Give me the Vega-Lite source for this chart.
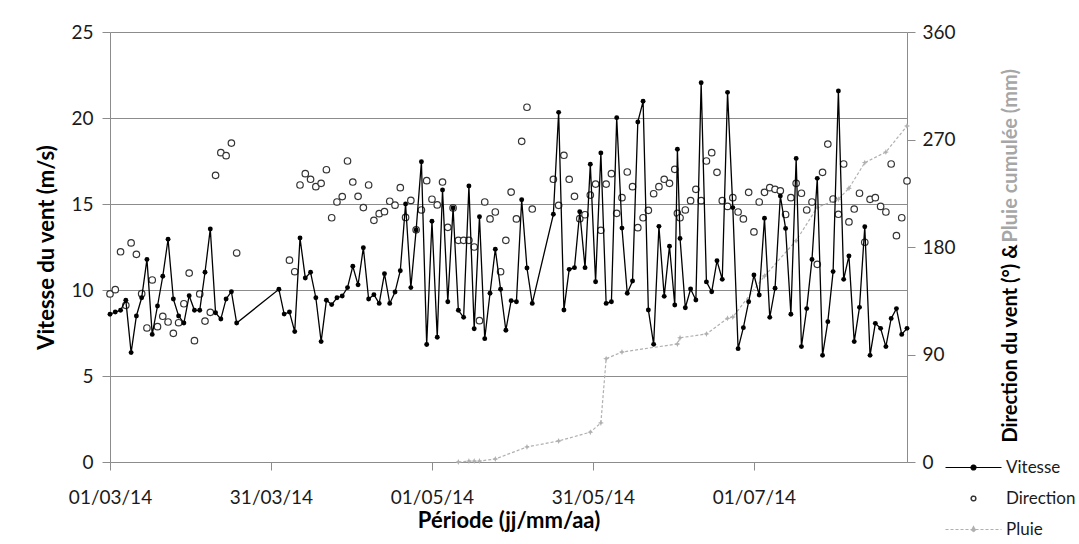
{
  "$schema": "https://vega.github.io/schema/vega-lite/v6.json",
  "width": 797,
  "height": 430,
  "autosize": {"type": "none"},
  "padding": {"left": 110, "top": 32, "right": 172, "bottom": 82},
  "background": "white",
  "config": {
    "view": {"stroke": null},
    "font": "Lato",
    "axis": {
      "labelFont": "Lato", "titleFont": "Lato",
      "labelColor": "#1a1a1a", "titleColor": "#000000",
      "domainColor": "#8c8c8c", "tickColor": "#8c8c8c", "gridColor": "#8c8c8c",
      "labelFontSize": 19, "titleFontSize": 22, "titleFontWeight": "bold"
    },
    "legend": {"labelFont": "Lato", "labelFontSize": 17, "labelColor": "#1a1a1a"}
  },
  "datasets": {
    "speed": [
      {"date":"2014-03-01","speed":8.59},{"date":"2014-03-02","speed":8.72},{"date":"2014-03-03","speed":8.82},{"date":"2014-03-04","speed":9.4},{"date":"2014-03-05","speed":6.36},{"date":"2014-03-06","speed":8.49},{"date":"2014-03-07","speed":9.55},{"date":"2014-03-08","speed":11.78},{"date":"2014-03-09","speed":7.42},{"date":"2014-03-10","speed":9.07},{"date":"2014-03-11","speed":10.8},{"date":"2014-03-12","speed":12.95},{"date":"2014-03-13","speed":9.48},{"date":"2014-03-14","speed":8.49},{"date":"2014-03-15","speed":8.08},{"date":"2014-03-16","speed":9.67},{"date":"2014-03-17","speed":8.82},{"date":"2014-03-18","speed":8.82},{"date":"2014-03-19","speed":11.03},{"date":"2014-03-20","speed":13.55},{"date":"2014-03-21","speed":8.68},{"date":"2014-03-22","speed":8.31},{"date":"2014-03-23","speed":9.48},{"date":"2014-03-24","speed":9.9},{"date":"2014-03-25","speed":8.08},
      {"date":"2014-04-02","speed":10.04},{"date":"2014-04-03","speed":8.6},{"date":"2014-04-04","speed":8.72},{"date":"2014-04-05","speed":7.58},{"date":"2014-04-06","speed":13.02},{"date":"2014-04-07","speed":10.7},{"date":"2014-04-08","speed":11.03},{"date":"2014-04-09","speed":9.55},{"date":"2014-04-10","speed":7.0},{"date":"2014-04-11","speed":9.4},{"date":"2014-04-12","speed":9.15},{"date":"2014-04-13","speed":9.55},{"date":"2014-04-14","speed":9.65},{"date":"2014-04-15","speed":10.14},{"date":"2014-04-16","speed":11.38},{"date":"2014-04-17","speed":10.3},{"date":"2014-04-18","speed":12.46},{"date":"2014-04-19","speed":9.48},{"date":"2014-04-20","speed":9.73},{"date":"2014-04-21","speed":9.22},{"date":"2014-04-22","speed":10.95},{"date":"2014-04-23","speed":9.22},{"date":"2014-04-24","speed":9.88},{"date":"2014-04-25","speed":11.12},{"date":"2014-04-26","speed":15.0},{"date":"2014-04-27","speed":10.14},{"date":"2014-04-28","speed":13.49},{"date":"2014-04-29","speed":17.46},{"date":"2014-04-30","speed":6.83},
      {"date":"2014-05-01","speed":14.0},{"date":"2014-05-02","speed":7.25},{"date":"2014-05-03","speed":15.81},{"date":"2014-05-04","speed":9.32},{"date":"2014-05-05","speed":14.77},{"date":"2014-05-06","speed":8.82},{"date":"2014-05-07","speed":8.41},{"date":"2014-05-08","speed":16.05},{"date":"2014-05-09","speed":7.75},{"date":"2014-05-10","speed":14.26},{"date":"2014-05-11","speed":7.17},{"date":"2014-05-12","speed":9.81},{"date":"2014-05-13","speed":12.37},{"date":"2014-05-14","speed":10.04},{"date":"2014-05-15","speed":7.66},{"date":"2014-05-16","speed":9.38},{"date":"2014-05-17","speed":9.32},{"date":"2014-05-18","speed":15.25},{"date":"2014-05-19","speed":11.28},{"date":"2014-05-20","speed":9.22},
      {"date":"2014-05-24","speed":14.4},{"date":"2014-05-25","speed":20.33},{"date":"2014-05-26","speed":8.84},{"date":"2014-05-27","speed":11.2},{"date":"2014-05-28","speed":11.3},{"date":"2014-05-29","speed":14.55},{"date":"2014-05-30","speed":11.3},{"date":"2014-05-31","speed":17.31},
      {"date":"2014-06-01","speed":10.48},{"date":"2014-06-02","speed":17.97},{"date":"2014-06-03","speed":9.22},{"date":"2014-06-04","speed":9.32},{"date":"2014-06-05","speed":20.02},{"date":"2014-06-06","speed":13.6},{"date":"2014-06-07","speed":9.81},{"date":"2014-06-08","speed":10.52},{"date":"2014-06-09","speed":19.77},{"date":"2014-06-10","speed":20.97},{"date":"2014-06-11","speed":8.84},{"date":"2014-06-12","speed":6.84},{"date":"2014-06-13","speed":13.7},{"date":"2014-06-14","speed":9.63},{"date":"2014-06-15","speed":12.55},{"date":"2014-06-16","speed":9.13},{"date":"2014-06-16T12:00:00Z","speed":18.18},{"date":"2014-06-17","speed":13.0},{"date":"2014-06-18","speed":8.97},{"date":"2014-06-19","speed":10.06},{"date":"2014-06-20","speed":9.42},{"date":"2014-06-21","speed":22.05},{"date":"2014-06-22","speed":10.47},{"date":"2014-06-23","speed":9.9},{"date":"2014-06-24","speed":11.7},{"date":"2014-06-25","speed":10.62},{"date":"2014-06-26","speed":21.49},{"date":"2014-06-27","speed":14.79},{"date":"2014-06-28","speed":6.59},{"date":"2014-06-29","speed":7.81},{"date":"2014-06-30","speed":9.32},
      {"date":"2014-07-01","speed":10.87},{"date":"2014-07-02","speed":9.71},{"date":"2014-07-03","speed":14.17},{"date":"2014-07-04","speed":8.41},{"date":"2014-07-05","speed":10.1},{"date":"2014-07-06","speed":15.47},{"date":"2014-07-07","speed":13.58},{"date":"2014-07-08","speed":8.59},{"date":"2014-07-09","speed":17.65},{"date":"2014-07-10","speed":6.71},{"date":"2014-07-11","speed":8.92},{"date":"2014-07-12","speed":11.78},{"date":"2014-07-13","speed":16.49},{"date":"2014-07-14","speed":6.2},{"date":"2014-07-15","speed":8.16},{"date":"2014-07-16","speed":11.07},{"date":"2014-07-17","speed":21.57},{"date":"2014-07-18","speed":10.62},{"date":"2014-07-19","speed":11.98},{"date":"2014-07-20","speed":7.0},{"date":"2014-07-21","speed":8.99},{"date":"2014-07-22","speed":13.68},{"date":"2014-07-23","speed":6.2},{"date":"2014-07-24","speed":8.06},{"date":"2014-07-25","speed":7.77},{"date":"2014-07-26","speed":6.71},{"date":"2014-07-27","speed":8.35},{"date":"2014-07-28","speed":8.92},{"date":"2014-07-29","speed":7.42},{"date":"2014-07-30","speed":7.77}
    ],
    "dir": [
      {"date":"2014-03-01","dir":140.7},{"date":"2014-03-02","dir":144.3},{"date":"2014-03-03","dir":176},{"date":"2014-03-04","dir":131.2},{"date":"2014-03-05","dir":183.4},{"date":"2014-03-06","dir":173.9},{"date":"2014-03-07","dir":140.9},{"date":"2014-03-08","dir":112.2},{"date":"2014-03-09","dir":152.4},{"date":"2014-03-10","dir":113.3},{"date":"2014-03-11","dir":122},{"date":"2014-03-12","dir":117.2},{"date":"2014-03-13","dir":107.7},{"date":"2014-03-14","dir":116.6},{"date":"2014-03-15","dir":132.5},{"date":"2014-03-16","dir":158.2},{"date":"2014-03-17","dir":101.6},{"date":"2014-03-18","dir":140.7},{"date":"2014-03-19","dir":118},{"date":"2014-03-20","dir":125.3},{"date":"2014-03-21","dir":240},{"date":"2014-03-22","dir":259},{"date":"2014-03-23","dir":256.5},{"date":"2014-03-24","dir":267},{"date":"2014-03-25","dir":175},
      {"date":"2014-04-04","dir":169},{"date":"2014-04-05","dir":159.3},{"date":"2014-04-06","dir":231.9},{"date":"2014-04-07","dir":241.4},{"date":"2014-04-08","dir":236.7},{"date":"2014-04-09","dir":230.5},{"date":"2014-04-10","dir":233.3},{"date":"2014-04-11","dir":244.7},{"date":"2014-04-12","dir":204.5},{"date":"2014-04-13","dir":217.7},{"date":"2014-04-14","dir":222.2},{"date":"2014-04-15","dir":252},{"date":"2014-04-16","dir":234.4},{"date":"2014-04-17","dir":222.4},{"date":"2014-04-18","dir":213},{"date":"2014-04-19","dir":231.9},{"date":"2014-04-20","dir":202.3},{"date":"2014-04-21","dir":207.9},{"date":"2014-04-22","dir":209.6},{"date":"2014-04-23","dir":218.3},{"date":"2014-04-24","dir":215},{"date":"2014-04-25","dir":229.7},{"date":"2014-04-26","dir":204.8},{"date":"2014-04-27","dir":219},{"date":"2014-04-28","dir":194.4},{"date":"2014-04-29","dir":211},{"date":"2014-04-30","dir":235.5},
      {"date":"2014-05-01","dir":220},{"date":"2014-05-02","dir":215.2},{"date":"2014-05-03","dir":234.4},{"date":"2014-05-04","dir":196.5},{"date":"2014-05-05","dir":212.7},{"date":"2014-05-06","dir":185.6},{"date":"2014-05-07","dir":185.6},{"date":"2014-05-08","dir":185.6},{"date":"2014-05-09","dir":180},{"date":"2014-05-10","dir":118.3},{"date":"2014-05-11","dir":217.7},{"date":"2014-05-12","dir":203.5},{"date":"2014-05-13","dir":209.3},{"date":"2014-05-14","dir":159.3},{"date":"2014-05-15","dir":185.6},{"date":"2014-05-16","dir":226},{"date":"2014-05-17","dir":203.5},{"date":"2014-05-18","dir":268.5},{"date":"2014-05-19","dir":297},{"date":"2014-05-20","dir":211.8},
      {"date":"2014-05-24","dir":236.7},{"date":"2014-05-25","dir":214.9},{"date":"2014-05-26","dir":256.8},{"date":"2014-05-27","dir":236.7},{"date":"2014-05-28","dir":222.4},{"date":"2014-05-29","dir":203.7},{"date":"2014-05-30","dir":207},{"date":"2014-05-31","dir":223.5},
      {"date":"2014-06-01","dir":232.7},{"date":"2014-06-02","dir":194},{"date":"2014-06-03","dir":232.7},{"date":"2014-06-04","dir":241.4},{"date":"2014-06-05","dir":208.2},{"date":"2014-06-06","dir":221.3},{"date":"2014-06-07","dir":242.8},{"date":"2014-06-08","dir":230.5},{"date":"2014-06-09","dir":196.2},{"date":"2014-06-10","dir":204.5},{"date":"2014-06-11","dir":210.7},{"date":"2014-06-12","dir":224.6},{"date":"2014-06-13","dir":230.5},{"date":"2014-06-14","dir":236.7},{"date":"2014-06-15","dir":233.3},{"date":"2014-06-16","dir":245},{"date":"2014-06-16T12:00:00Z","dir":208.2},{"date":"2014-06-17","dir":204.5},{"date":"2014-06-18","dir":211},{"date":"2014-06-19","dir":218.8},{"date":"2014-06-20","dir":228.3},{"date":"2014-06-21","dir":218.8},{"date":"2014-06-22","dir":252},{"date":"2014-06-23","dir":259},{"date":"2014-06-24","dir":242.5},{"date":"2014-06-25","dir":218.8},{"date":"2014-06-26","dir":214},{"date":"2014-06-27","dir":221.3},{"date":"2014-06-28","dir":209.3},{"date":"2014-06-29","dir":203.5},{"date":"2014-06-30","dir":225.8},
      {"date":"2014-07-01","dir":192.6},{"date":"2014-07-02","dir":217.7},{"date":"2014-07-03","dir":225.8},{"date":"2014-07-04","dir":229.7},{"date":"2014-07-05","dir":228.3},{"date":"2014-07-06","dir":227},{"date":"2014-07-07","dir":207.2},{"date":"2014-07-08","dir":221.3},{"date":"2014-07-09","dir":233.3},{"date":"2014-07-10","dir":225},{"date":"2014-07-11","dir":211},{"date":"2014-07-12","dir":217.7},{"date":"2014-07-13","dir":165.5},{"date":"2014-07-14","dir":242.5},{"date":"2014-07-15","dir":266.2},{"date":"2014-07-16","dir":220.2},{"date":"2014-07-17","dir":207.4},{"date":"2014-07-18","dir":249.5},{"date":"2014-07-19","dir":201},{"date":"2014-07-20","dir":211.8},{"date":"2014-07-21","dir":225},{"date":"2014-07-22","dir":184},{"date":"2014-07-23","dir":219.9},{"date":"2014-07-24","dir":221.3},{"date":"2014-07-25","dir":214},{"date":"2014-07-26","dir":209.3},{"date":"2014-07-27","dir":249.5},{"date":"2014-07-28","dir":189.5},{"date":"2014-07-29","dir":204.5},{"date":"2014-07-30","dir":235.3}
    ],
    "rain": [
      {"date":"2014-05-06","rain":0},{"date":"2014-05-08","rain":0.8},{"date":"2014-05-09","rain":0.8},{"date":"2014-05-10","rain":0.8},{"date":"2014-05-13","rain":2.5},{"date":"2014-05-19","rain":12.6},{"date":"2014-05-25","rain":17.6},{"date":"2014-05-31","rain":25},{"date":"2014-06-02","rain":32.7},{"date":"2014-06-03","rain":86.5},{"date":"2014-06-06","rain":92.1},{"date":"2014-06-16T12:00:00Z","rain":98.8},{"date":"2014-06-17","rain":104},{"date":"2014-06-22","rain":107.2},{"date":"2014-06-26","rain":120.3},{"date":"2014-06-27","rain":121.4},{"date":"2014-07-03","rain":155.7},{"date":"2014-07-09","rain":185.3},{"date":"2014-07-13","rain":213.2},{"date":"2014-07-17","rain":220},{"date":"2014-07-19","rain":229.2},{"date":"2014-07-22","rain":250.6},{"date":"2014-07-26","rain":259.5},{"date":"2014-07-30","rain":281.3}
    ]
  },
  "encoding": {
    "x": {
      "field": "date", "type": "temporal",
      "scale": {"type": "utc", "domain": [{"year":2014,"month":3,"date":1,"utc":true},{"year":2014,"month":7,"date":30,"utc":true}], "nice": false},
      "axis": {
        "values": [
          {"year":2014,"month":3,"date":1,"utc":true},
          {"year":2014,"month":3,"date":31,"hours":12,"utc":true},
          {"year":2014,"month":5,"date":1,"utc":true},
          {"year":2014,"month":5,"date":31,"hours":12,"utc":true},
          {"year":2014,"month":7,"date":1,"utc":true}
        ],
        "format": "%d/%m/%y", "labelFlush": false, "labelOverlap": false,
        "tickSize": 8, "labelPadding": 18, "grid": false,
        "title": "Période (jj/mm/aa)", "titlePadding": 3
      }
    }
  },
  "layer": [
    {
      "data": {"name": "dir"},
      "mark": {"type": "point", "shape": "circle", "filled": false, "size": 42, "strokeWidth": 1.2, "fill": "white", "fillOpacity": 1, "opacity": 1},
      "encoding": {
        "y": {"field": "dir", "type": "quantitative", "scale": {"domain": [0, 360], "nice": false},
          "axis": {"orient": "right", "values": [0, 90, 180, 270, 360], "grid": false, "tickSize": 8, "labelPadding": 7,
            "title": "Direction du vent (°) &", "titleFontSize": 20, "titleAngle": 270, "titleX": 103, "titleY": 410, "titleAlign": "left", "titleBaseline": "middle"}},
        "color": {"datum": "Direction"}
      }
    },
    {
      "data": {"name": "rain"},
      "mark": {"type": "line", "strokeWidth": 1.2, "strokeDash": [3, 2],
        "point": {"shape": "M0,-1L0.3,-0.3L1,0L0.3,0.3L0,1L-0.3,0.3L-1,0L-0.3,-0.3Z", "filled": true, "color": "#707070", "size": 36, "opacity": 1}},
      "encoding": {
        "y": {"field": "rain", "type": "quantitative", "scale": {"domain": [0, 360], "nice": false},
          "axis": {"orient": "right", "labels": false, "ticks": false, "domain": false, "grid": false,
            "title": "Pluie cumulée (mm)", "titleFontSize": 20, "titleColor": "#a6a6a6", "titleAngle": 270, "titleX": 103, "titleY": 210, "titleAlign": "left", "titleBaseline": "middle"}},
        "color": {"datum": "Pluie"}
      }
    },
    {
      "data": {"name": "speed"},
      "mark": {"type": "line", "strokeWidth": 1.3, "point": {"filled": true, "size": 24}},
      "encoding": {
        "y": {"field": "speed", "type": "quantitative", "scale": {"domain": [0, 25], "nice": false},
          "axis": {"orient": "left", "values": [0, 5, 10, 15, 20, 25], "grid": true, "gridWidth": 1, "tickSize": 8, "labelPadding": 9,
            "title": "Vitesse du vent (m/s)", "titleFontSize": 22, "titlePadding": 12}},
        "color": {"datum": "Vitesse",
          "scale": {"domain": ["Vitesse", "Direction", "Pluie"], "range": ["#000000", "#333333", "#b0b0b0"]},
          "legend": {"orient": "none", "legendX": 855, "legendY": 427, "title": null, "padding": 0,
            "symbolSize": 100, "labelOffset": 24, "rowPadding": 13, "labelFontSize": 17,
            "encode": {"symbols": {"update": {
              "shape": {"signal": "datum.value === 'Vitesse' ? 'M-5.6,0H5.6M-0.5,0A0.5,0.5,0,1,0,0.5,0A0.5,0.5,0,1,0,-0.5,0Z' : datum.value === 'Direction' ? 'M-0.5,0A0.5,0.5,0,1,1,0.5,0A0.5,0.5,0,1,1,-0.5,0ZM-0.44,0A0.44,0.44,0,1,0,0.44,0A0.44,0.44,0,1,0,-0.44,0Z' : 'M-5.6,0H5.6M0,-0.6L0.2,-0.2L0.6,0L0.2,0.2L0,0.6L-0.2,0.2L-0.6,0L-0.2,-0.2Z'"},
              "strokeDash": {"signal": "datum.value === 'Pluie' ? [3, 2] : [1, 0]"},
              "strokeWidth": {"value": 1.2},
              "size": {"value": 100},
              "opacity": {"value": 1}
            }}}
          }
        }
      }
    }
  ],
  "resolve": {"scale": {"y": "independent"}}
}
